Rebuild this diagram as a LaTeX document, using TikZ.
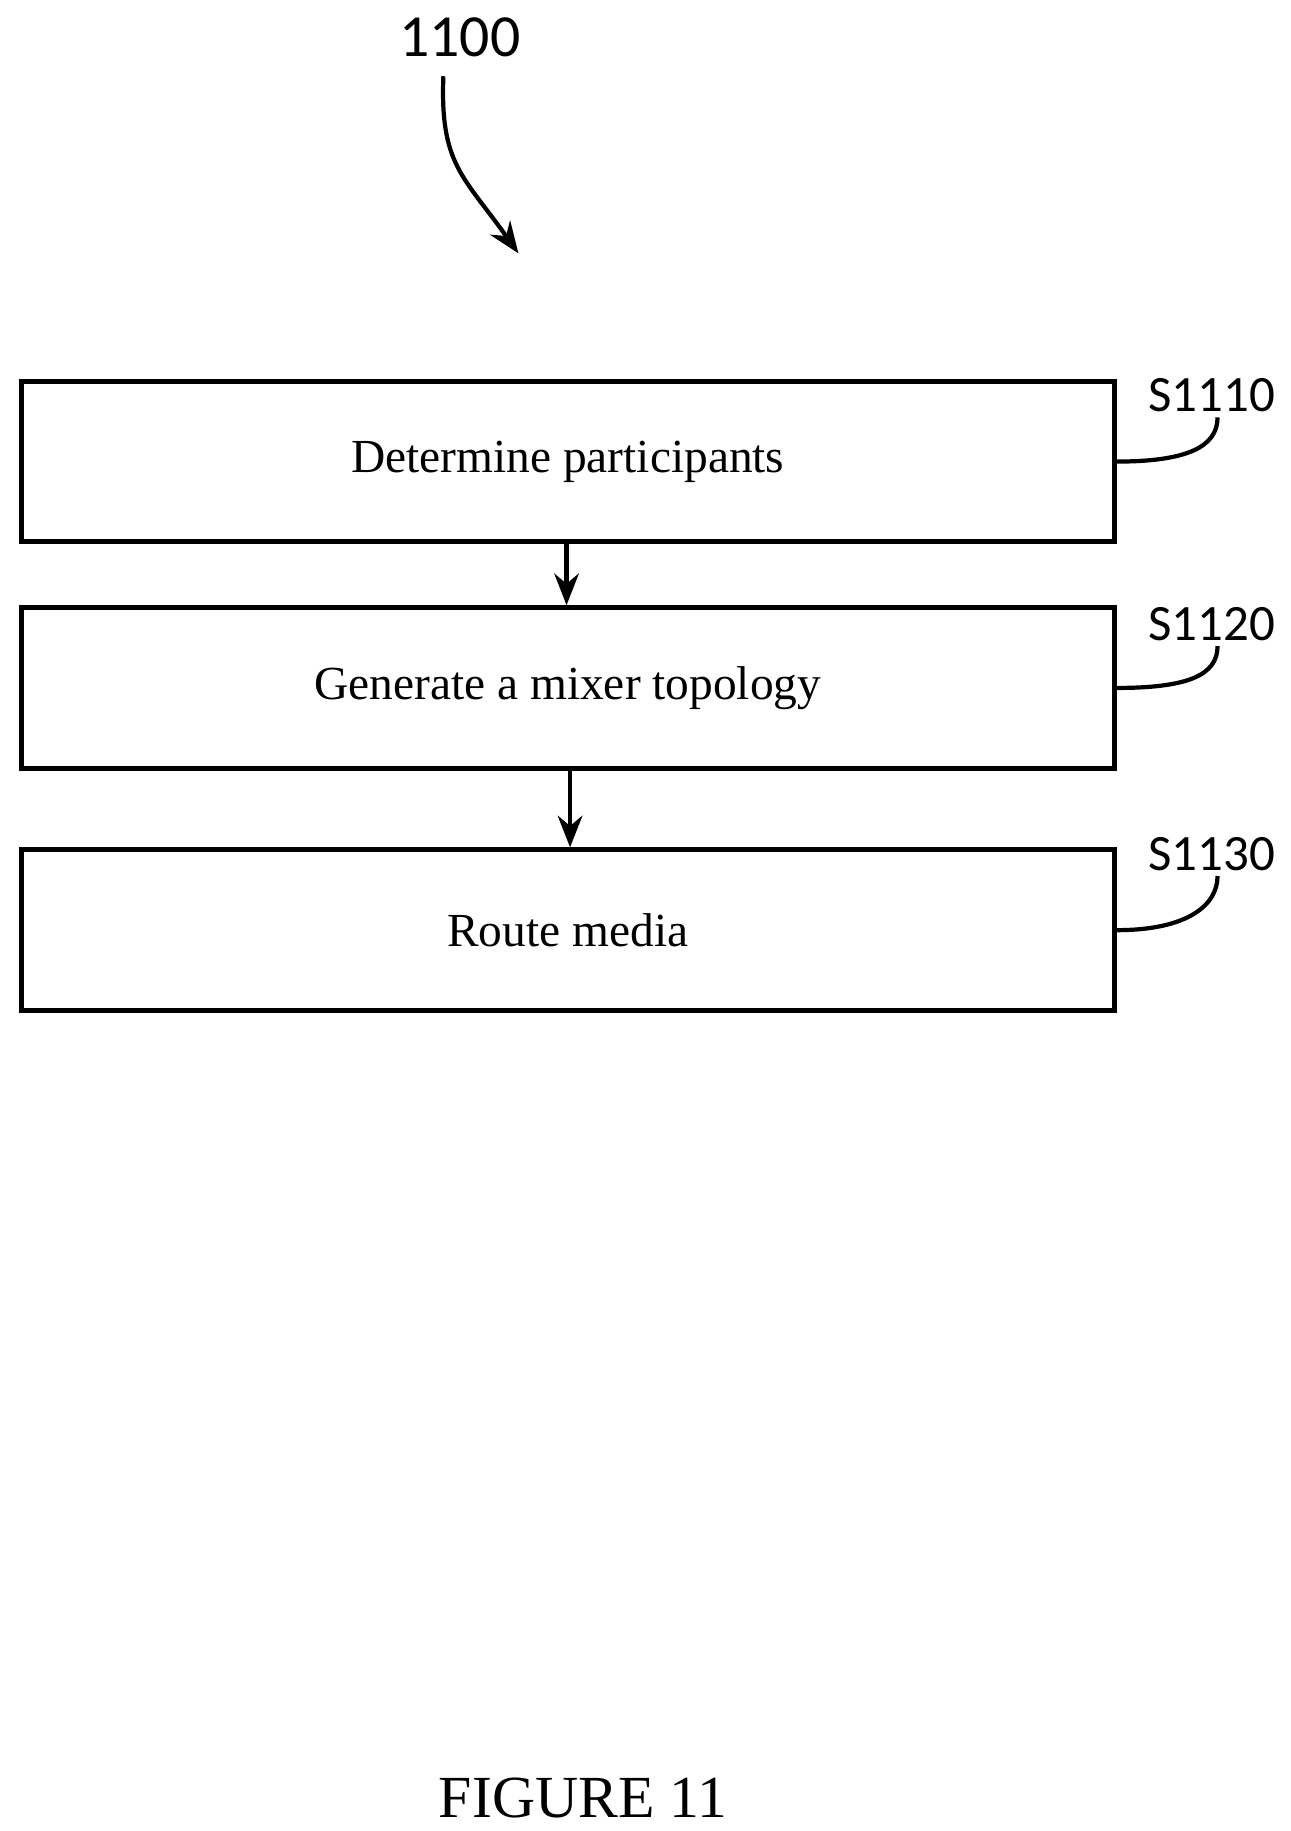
\documentclass[tikz,border=0pt]{standalone}
\usepackage{fontspec}
\setmainfont{Liberation Serif}
\newfontfamily\labelfont{Carlito}
\usetikzlibrary{arrows.meta,calc}

\begin{document}
\begin{tikzpicture}[x=0.011727cm,y=-0.011727cm,
		%Option for nice arrows%
		>={Stealth[length=9pt,width=7pt]},%
		stepbox/.style={draw,line width=1.4pt,minimum width=932*0.011727cm,
			minimum height=137*0.011727cm,inner sep=0pt,font=\fontsize{13.5}{16}\selectfont},%
		steplabel/.style={font=\labelfont\fontsize{14.5}{17}\selectfont,inner sep=0pt},%
		hook/.style={line width=1.2pt}%
		]
		\useasboundingbox (0,0) rectangle (1100,1561);
		%% boxes
		\node[stepbox] (s1) at (484,393.5) {Determine participants};
		\node[stepbox] (s2) at (484,586.5) {Generate a mixer topology};
		\node[stepbox] (s3) at (484,793) {Route media};
		%% labels
		\node[steplabel] (l1) at (1033,337) {S1110};
		\node[steplabel] (l2) at (1033,532) {S1120};
		\node[steplabel] (l3) at (1033,728) {S1130};
		\foreach \i in {1,2,3}
			\draw[hook] (s\i.east) .. controls ++(60,0) and ++(0,25) .. ($(l\i.south)+(5,4)$);
		%% flow
		\draw[->,line width=1.2pt] (s1.south -| 483,0) -- (s2.north -| 483,0);
		\draw[->,line width=1.2pt] (s2.south -| 486,0) -- (s3.north -| 486,0);
		%% figure number
		\node[steplabel,font=\labelfont\fontsize{17}{20}\selectfont] (num) at (392,32) {1100};
		\coordinate (tip) at (442,216);
		\draw[->,line width=1.2pt] (378,65) .. controls (375,140) and (395,150) .. (tip);
		\node[font=\fontsize{17}{20}\selectfont] (fig) at (497,1533) {FIGURE 11};
	\end{tikzpicture}
\end{document}
